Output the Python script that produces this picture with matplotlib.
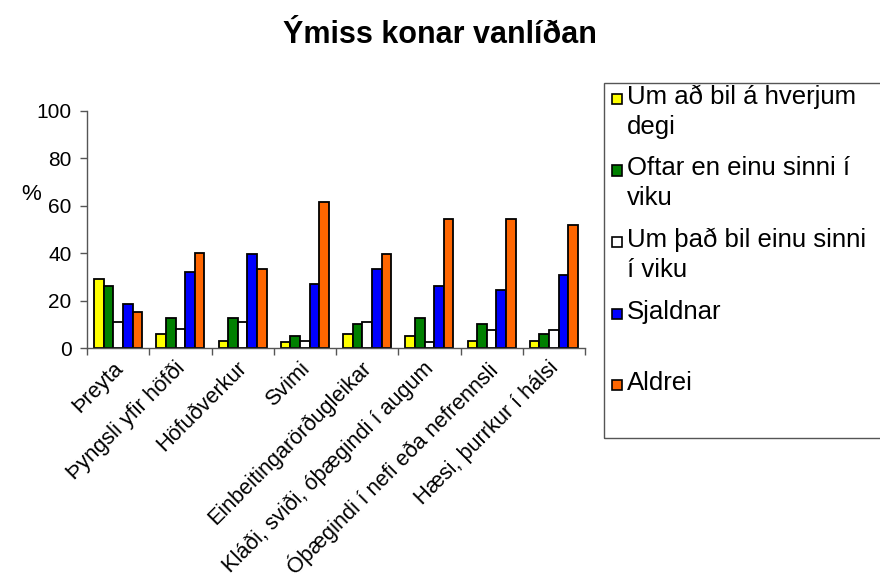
import numpy as np
import matplotlib
matplotlib.use("Agg")
import matplotlib.pyplot as plt
from matplotlib.patches import Rectangle
from matplotlib.transforms import ScaledTranslation

plt.rcParams['font.family'] = ['Liberation Sans', 'DejaVu Sans']

# flokkar og gildi (%)
flokkar = ["Þreyta", "Þyngsli yfir höfði", "Höfuðverkur", "Svimi",
           "Einbeitingarörðugleikar", "Kláði, sviði, óþægindi í augum",
           "Óþægindi í nefi eða nefrennsli", "Hæsi, þurrkur í hálsi"]

daglega = [29, 6, 3, 2.5, 6, 5, 3, 3]
oftar_vika = [26, 12.5, 12.5, 5, 10, 12.5, 10, 6]
einu_sinni_vika = [11, 8, 11, 3, 11, 2.5, 7.5, 7.5]
sjaldnar = [18.5, 32, 39.5, 27, 33.5, 26, 24.5, 31]
aldrei = [15, 40, 33.5, 61.5, 39.5, 54.5, 54.5, 52]

flokkar_legend = ["Um að bil á hverjum\ndegi", "Oftar en einu sinni í\nviku",
                  "Um það bil einu sinni\ní viku", "Sjaldnar", "Aldrei"]
litir = ["#FFFF00", "#008000", "#FFFFFF", "#0000FF", "#FF6600"]
rodun = [daglega, oftar_vika, einu_sinni_vika, sjaldnar, aldrei]

fig = plt.figure(figsize=(8.8, 5.85), dpi=100)
ax = fig.add_axes([87/880, 1 - 348/585, (585-87)/880, (348-111)/585])

x = np.arange(len(flokkar))
bw = 0.155
for i, (vals, c) in enumerate(zip(rodun, litir)):
    ax.bar(x + (i - 2) * bw, vals, bw, color=c, edgecolor='black', linewidth=1.3)

ax.set_xlim(-0.5, len(flokkar) - 0.5)
ax.set_ylim(0, 100)
ax.set_yticks([0, 20, 40, 60, 80, 100])
ax.tick_params(axis='y', labelsize=15, length=5, width=1, color='#555555', pad=6)
ax.set_xticks(x)
ax.set_xticklabels(flokkar, rotation=45, ha='right', va='top',
                   rotation_mode='anchor', fontsize=15.6)
ax.tick_params(axis='x', which='major', length=0, pad=7)
# örlítið til vinstri
for lbl in ax.get_xticklabels():
    lbl.set_transform(lbl.get_transform() + ScaledTranslation(-0.06, 0, fig.dpi_scale_trans))
ax.set_xticks(np.arange(-0.5, len(flokkar)), minor=True)
ax.tick_params(axis='x', which='minor', length=5, width=1, color='#555555')
for s in ['top', 'right']:
    ax.spines[s].set_visible(False)
for s in ['left', 'bottom']:
    ax.spines[s].set_color('#555555')
    ax.spines[s].set_linewidth(1)

fig.text(0.5, 1 - 35/585, "Ýmiss konar vanlíðan", ha='center', va='center',
         fontsize=22, fontweight='bold')
fig.text(31/880, 1 - 195/585, "%", ha='center', va='center', fontsize=16)

# skýringar (legend) teiknaðar handvirkt
fig.patches.append(Rectangle((604/880, 1 - 438/585), 300/880, (438-83)/585,
                             transform=fig.transFigure, fill=False,
                             edgecolor='#555555', linewidth=1, clip_on=False))
for i, (lab, c) in enumerate(zip(flokkar_legend, litir)):
    yc = 99 + i * 71.5
    fig.patches.append(Rectangle((612/880, 1 - (yc + 5)/585), 10/880, 10/585,
                                 transform=fig.transFigure, facecolor=c,
                                 edgecolor='black', linewidth=1.2))
    fig.text(627/880, 1 - (yc - 14)/585, lab, ha='left', va='top',
             fontsize=18.5, linespacing=1.3)

fig.savefig("out.png", dpi=100)
